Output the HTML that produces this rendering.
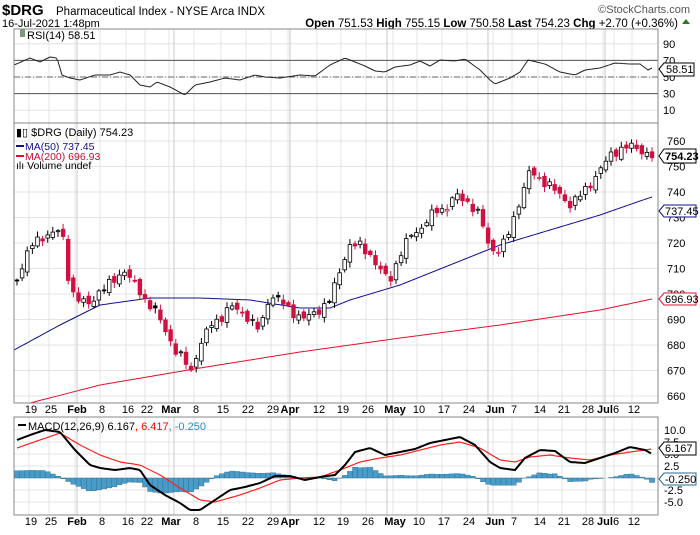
<!DOCTYPE html>
<html><head><meta charset="utf-8">
<style>
body{margin:0;background:#fff;width:700px;height:530px;overflow:hidden;font-family:"Liberation Sans",sans-serif}
svg text{font-family:"Liberation Sans",sans-serif}
</style></head><body>
<svg id="s" width="700" height="530" xmlns="http://www.w3.org/2000/svg"></svg>
<script>
const S=document.getElementById('s');let h='';
function T(x,y,t,o){o=o||{};h+=`<text x="${x}" y="${y}" font-size="${o.fs||11}" fill="${o.c||'#000'}" ${o.b?'font-weight="bold"':''} ${o.a?'text-anchor="'+o.a+'"':''}>${t}</text>`;}
function L(x1,y1,x2,y2,c,w,d){h+=`<line x1="${x1}" y1="${y1}" x2="${x2}" y2="${y2}" stroke="${c}" stroke-width="${w||1}" ${d?'stroke-dasharray="'+d+'"':''}/>`;}
function interp(p,x){if(x<=p[0][0])return p[0][1];for(let i=1;i<p.length;i++){if(x<=p[i][0]){const a=p[i-1],b=p[i];return a[1]+(b[1]-a[1])*(x-a[0])/(b[0]-a[0]);}}return p[p.length-1][1];}
function poly(p,c,w){let d='';for(let x=p[0][0];x<=p[p.length-1][0];x+=2)d+=x+','+interp(p,x).toFixed(1)+' ';h+=`<polyline points="${d}" fill="none" stroke="${c}" stroke-width="${w}"/>`;}
const X0=14,X1=658;
const vx=[77,174,290,387,488,605];
const tk=[[31,'19'],[51,'25'],[77,'Feb',1],[102,'8'],[128,'16'],[147,'22'],[171,'Mar',1],[196,'8'],[223,'15'],[248,'22'],[273,'29'],[290,'Apr',1],[319,'12'],[343,'19'],[368,'26'],[395,'May',1],[419,'10'],[444,'17'],[469,'24'],[495,'Jun',1],[514,'7'],[540,'14'],[564,'21'],[588,'28'],[605,'Jul',1],[616,'6'],[634,'12']];
function vgrid(y1,y2){tk.forEach(t=>L(t[0]-2,y1,t[0]-2,y2,'#e4e4e4'));vx.forEach(x=>L(x,y1,x,y2,'#c8c8c8'));}
// header
T(2,15,'$DRG',{fs:15,b:1});T(56,15,'Pharmaceutical Index - NYSE Arca INDX',{fs:11.5});
T(690,13,'©StockCharts.com',{fs:11,c:'#555',a:'end'});
T(2,27,'16-Jul-2021 1:48pm',{fs:11});
T(678,27,'<tspan font-weight="bold">Open</tspan> 751.53 <tspan font-weight="bold">High</tspan> 755.15 <tspan font-weight="bold">Low</tspan> 750.58 <tspan font-weight="bold">Last</tspan> 754.23 <tspan font-weight="bold">Chg</tspan> +2.70 (+0.36%)',{fs:11.5,a:'end'});
h+=`<polygon points="682,24 690,24 686,19" fill="#2a7a2a"/>`;
// RSI panel
const ry=v=>77-(v-50)*0.83;
[90,70,50,30,10].forEach(v=>{L(X0,ry(v),X1,ry(v),'#e4e4e4');});
vgrid(29,123);
L(X0,ry(70),X1,ry(70),'#555');L(X0,ry(30),X1,ry(30),'#555');L(X0,ry(50),X1,ry(50),'#666',1,'6,2,1,2');
[90,70,50,30,10].forEach(v=>T(663,ry(v)+4,v,{fs:11}));
const rsi=[[14,65],[30,58],[40,62],[50,57],[57,58],[62,75],[70,78],[80,80],[95,75],[110,75],[120,72],[130,75],[140,85],[150,87],[157,82],[170,87],[185,95],[195,85],[210,82],[225,78],[240,80],[255,75],[265,77],[280,78],[300,75],[315,76],[330,65],[345,58],[355,62],[365,66],[375,71],[385,72],[395,67],[410,65],[420,61],[430,66],[440,60],[455,61],[465,59],[480,70],[490,80],[495,84],[510,78],[520,72],[528,60],[545,64],[560,72],[575,75],[585,70],[600,68],[615,63],[630,64],[640,64],[648,70],[652,68]];
poly(rsi,'#222',1);
h+=`<rect x="20" y="29" width="5" height="8" fill="#7a9a7a"/>`;T(27,39,'RSI(14) 58.51',{fs:11});
h+=`<path d="M659,69 L664,63 L694,63 L694,76 L664,76 Z" fill="#fff" stroke="#000"/>`;T(666,73,'58.51',{fs:11});
// main panel
const py=v=>141+(760-v)*2.55;
for(let v=660;v<=760;v+=10)L(X0,py(v),X1,py(v),'#e4e4e4');
vgrid(123,403);
for(let v=660;v<=760;v+=10)T(667,py(v)+4,v,{fs:11});
const pr=[[17,280],[30,245],[40,240],[55,230],[62,232],[70,290],[80,300],[90,305],[100,290],[115,280],[125,270],[135,285],[145,300],[155,310],[165,330],[175,350],[185,360],[190,375],[200,345],[210,325],[220,320],[230,305],[245,315],[260,330],[270,295],[280,300],[295,315],[305,318],[320,310],[330,300],[340,270],[350,245],[360,245],[370,255],[380,270],[390,280],[400,255],[410,235],[420,230],[435,210],[445,210],[455,195],[465,200],[480,215],[490,250],[500,250],[510,230],[520,200],[530,170],[540,180],[550,185],[560,195],[570,205],[580,195],[590,185],[600,170],[610,155],[620,150],[630,145],[640,150],[648,155],[652,156]];
const ma50=[[14,350],[60,325],[100,305],[150,298],[200,298],[250,300],[300,308],[330,308],[350,300],[400,285],[450,265],[500,245],[550,230],[600,215],[640,201],[652,197]];
const ma200=[[30,403],[100,385],[200,368],[300,352],[400,338],[500,325],[600,310],[652,299]];
poly(ma200,'#e0102f',1);poly(ma50,'#101090',1);
let prev=interp(pr,17);
for(let i=0;i<125;i++){const x=17+i*635/124;const n1=Math.sin(i*2.7)*3+Math.sin(i*1.3)*1.5;let c=interp(pr,x)+n1;let o=prev+Math.sin(i*3.9)*3;const top=Math.min(o,c),bot=Math.max(o,c);const hi=top-1.5-Math.abs(Math.sin(i*5.1))*4,lo=bot+1.5+Math.abs(Math.cos(i*4.3))*4;const up=c<o;const down=c>prev;const col=down?'#d01040':'#000';L(x.toFixed(1),hi.toFixed(1),x.toFixed(1),lo.toFixed(1),col,1);h+=`<rect x="${(x-1.8).toFixed(1)}" y="${top.toFixed(1)}" width="3.6" height="${Math.max(1,bot-top).toFixed(1)}" fill="${up?'#fff':(down?'#d01040':'#000')}" stroke="${col}" stroke-width="0.8"/>`;prev=c;}
h+=`<path d="M659,156 L664,149 L696,149 L696,163 L664,163 Z" fill="#fff" stroke="#000"/>`;T(665,160,'754.23',{fs:11,b:1});
h+=`<path d="M659,211 L664,205 L696,205 L696,217 L664,217 Z" fill="#fff" stroke="#101090"/>`;T(665,215,'737.45',{fs:11});
h+=`<path d="M659,299 L664,293 L696,293 L696,305 L664,305 Z" fill="#fff" stroke="#e0102f"/>`;T(665,303,'696.93',{fs:11});
T(16,136,'▮▯ $DRG (Daily) 754.23',{fs:11});
L(16,146,24,146,'#101090',2);T(25,150,'MA(50) 737.45',{fs:10.5,c:'#101090'});
L(16,156,24,156,'#e0102f',2);T(25,160,'MA(200) 696.93',{fs:10.5,c:'#c01030'});
T(16,169,'ılı Volume undef',{fs:10.5});
h+=`<rect x="${X0}" y="29" width="${X1-X0}" height="94" fill="none" stroke="#888"/>`;
h+=`<rect x="${X0}" y="123" width="${X1-X0}" height="280" fill="none" stroke="#888"/>`;
function xl(y){tk.forEach(t=>T(t[0],y,t[1],{fs:11,b:t[2],a:'middle'}));}
xl(413);
// MACD
const my=v=>478-v*4.8;
[10,7.5,5,2.5,0,-2.5,-5].forEach(v=>L(X0,my(v),X1,my(v),'#e4e4e4'));
vgrid(417,515);
const mc=[[17,440],[30,435],[45,430],[60,432],[75,450],[90,465],[100,468],[115,470],[130,468],[140,470],[150,485],[165,495],[180,503],[190,510],[200,510],[215,500],[230,490],[245,487],[260,483],[275,476],[290,476],[305,480],[320,477],[335,475],[345,465],[355,452],[370,448],[385,455],[400,452],[415,449],[430,443],[445,440],[460,437],[475,445],[490,462],[500,468],[515,470],[525,458],[540,450],[555,451],[570,462],[585,463],[600,458],[615,453],[630,447],[645,450],[652,454]];
const sg=[[17,448],[40,440],[60,433],[80,445],[100,455],[120,462],[140,465],[160,475],[180,488],[200,500],[215,502],[240,495],[260,488],[280,480],[300,478],[320,477],[340,470],[360,462],[380,458],[400,455],[420,450],[440,445],[460,442],[480,448],[500,460],[515,462],[530,457],[550,455],[570,458],[590,460],[610,455],[630,452],[652,449]];
for(let i=0;i<125;i++){const x=17+i*635/124;const d=(interp(sg,x)-interp(mc,x))*0.9;const z=478;h+=`<rect x="${(x-2.5).toFixed(1)}" y="${Math.min(z,z-d).toFixed(1)}" width="5.1" height="${Math.abs(d).toFixed(1)}" fill="#4a9cc8" stroke="#2a6a90" stroke-width="0.4"/>`;}
poly(sg,'#ff2020',1.2);poly(mc,'#000',2);
[[10,'10.0'],[7.5,'7.5'],[5,'5.0'],[2.5,'2.5'],[-2.5,'-2.5'],[-5,'-5.0']].forEach(a=>T(664,my(a[0])+4,a[1],{fs:11}));
h+=`<path d="M659,448 L664,442 L696,442 L696,455 L664,455 Z" fill="#fff" stroke="#000"/>`;T(665,452,'6.167',{fs:11});
h+=`<path d="M659,479 L664,473 L696,473 L696,485 L664,485 Z" fill="#fff" stroke="#2a6a90"/>`;T(665,483,'-0.250',{fs:11});
L(18,425,26,425,'#000',2);T(28,430,'MACD(12,26,9) 6.167<tspan fill="#f00">, 6.417</tspan><tspan fill="#2a8ac0">, -0.250</tspan>',{fs:11});
h+=`<rect x="${X0}" y="417" width="${X1-X0}" height="98" fill="none" stroke="#888"/>`;
xl(525);
S.innerHTML=h;
</script>
</body></html>
